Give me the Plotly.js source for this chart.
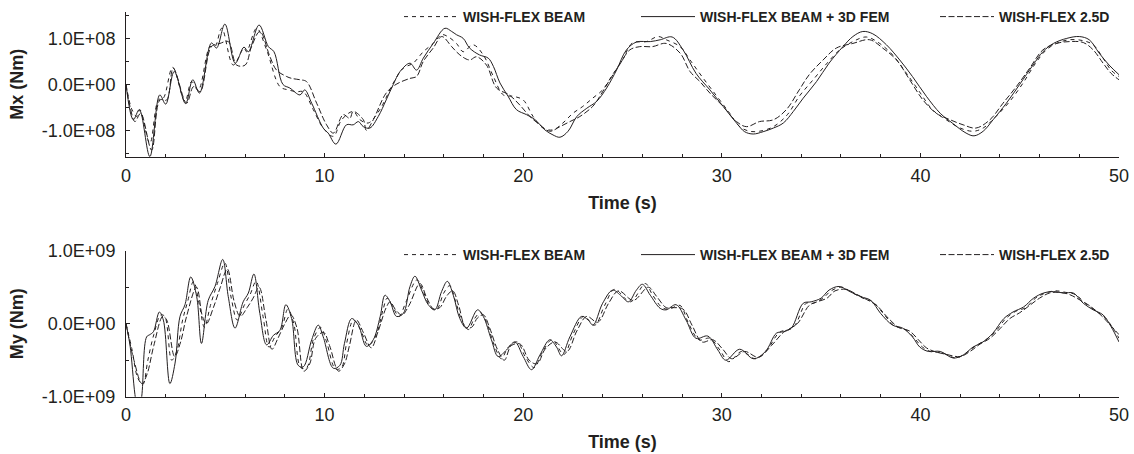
<!DOCTYPE html>
<html><head><meta charset="utf-8">
<script src="https://cdn.plot.ly/plotly-3.0.1.min.js"></script>
<style>html,body{margin:0;padding:0;background:#fff}#chart{width:1134px;height:454px}</style>
</head><body><div id="chart"></div>
<script>
// ---- data (time s, moment in units of the scale) ----
const seriesNames = ['WISH-FLEX BEAM', 'WISH-FLEX BEAM + 3D FEM', 'WISH-FLEX 2.5D'];
const timeTicks = [0, 10, 20, 30, 40, 50];
const mxTickVals = [-1e8, 0, 1e8];
const mxTickText = ['-1.0E+08', '0.0E+00', '1.0E+08'];
const myTickVals = [-1e9, 0, 1e9];
const myTickText = ['-1.0E+09', '0.0E+00', '1.0E+09'];
const MX_UNIT = 1e8;
const MY_UNIT = 1e9;

// Mx, units of 1e8 Nm
const mxBeam = [[0,0],[0.3,-0.55],[0.55,-0.7],[0.7,-0.55],[1.2,-1.28],[1.63,-0.34],[1.88,-0.3],[2.35,0.37],[2.97,-0.37],[3.3,0.06],[3.64,-0.12],[4.23,0.82],[4.48,0.82],[4.82,1.22],[5.4,0.42],[5.94,0.79],[6.07,0.71],[6.58,1.22],[7.08,0.75],[7.75,-0.05],[8.17,-0.12],[8.6,-0.16],[8.93,-0.16],[9.43,-0.55],[9.93,-0.95],[10.44,-1.13],[10.86,-0.77],[11.44,-0.59],[11.78,-0.77],[12.2,-0.84],[12.78,-0.55],[13.46,0.03],[13.96,0.35],[14.46,0.46],[14.97,0.71],[15.47,0.89],[15.9,1.08],[16.2,1.04],[16.64,0.89],[16.98,0.71],[17.48,0.86],[17.99,0.64],[18.5,0.17],[19.0,-0.23],[19.5,-0.26],[20.0,-0.34],[20.5,-0.7],[21.0,-0.95],[21.5,-0.99],[22.0,-0.84],[22.5,-0.63],[23.0,-0.48],[23.5,-0.3],[24.0,-0.12],[24.5,0.21],[25.0,0.53],[25.5,0.9],[26.2,0.93],[26.8,1.04],[27.2,0.97],[27.9,0.82],[28.4,0.53],[29.0,0.17],[29.7,-0.23],[30.4,-0.63],[30.9,-0.92],[31.4,-1.02],[31.9,-1.02],[32.6,-0.92],[33.3,-0.66],[33.9,-0.26],[34.6,0.1],[35.3,0.46],[35.94,0.75],[36.6,0.93],[37.28,1.03],[37.95,0.89],[38.6,0.64],[39.3,0.24],[40.0,-0.19],[40.6,-0.55],[41.3,-0.77],[42.0,-0.95],[42.65,-1.02],[43.16,-0.95],[43.8,-0.7],[44.5,-0.37],[45.17,0.03],[45.8,0.46],[46.34,0.75],[46.85,0.89],[47.5,0.97],[48.2,0.95],[48.7,0.86],[49.2,0.57],[49.6,0.31],[50,0.17]];
const mxFem = [[0,0],[0.37,-0.77],[0.67,-0.55],[1.2,-1.57],[1.7,-0.23],[2.0,-0.43],[2.43,0.28],[3.0,-0.42],[3.36,0.1],[3.7,-0.19],[4.3,0.9],[4.56,0.79],[4.98,1.31],[5.5,0.46],[5.94,0.81],[6.16,0.71],[6.7,1.29],[7.17,0.82],[7.45,0.71],[7.9,0],[8.25,-0.08],[8.76,-0.23],[9.0,-0.12],[9.35,-0.41],[9.93,-0.95],[10.18,-1.06],[10.57,-1.3],[11.1,-0.88],[11.44,-0.88],[11.7,-0.81],[11.95,-0.92],[12.28,-0.95],[12.7,-0.7],[13.1,-0.34],[13.46,0],[13.8,0.28],[14.3,0.46],[14.63,0.31],[14.97,0.57],[15.47,0.89],[16.06,1.22],[16.4,1.15],[16.64,1.08],[16.98,1.0],[17.3,0.79],[17.8,0.64],[18.24,0.57],[18.5,0.39],[18.83,0.03],[19.24,-0.26],[19.66,-0.55],[20.17,-0.66],[20.6,-0.77],[21.09,-0.99],[21.5,-1.1],[21.85,-1.15],[22.26,-1.02],[22.7,-0.7],[23.2,-0.52],[23.7,-0.37],[24.2,-0.08],[24.7,0.31],[25.2,0.75],[25.7,0.92],[26.4,0.93],[26.9,0.97],[27.5,1.03],[28.05,0.75],[28.7,0.24],[29.4,-0.12],[30.07,-0.48],[30.74,-0.84],[31.15,-1.03],[31.58,-1.08],[32.08,-1.03],[32.6,-0.95],[33.1,-0.84],[33.6,-0.59],[34.1,-0.3],[34.77,0.06],[35.4,0.46],[36.1,0.82],[36.6,1.04],[37.1,1.15],[37.6,1.1],[38.29,0.86],[38.96,0.53],[39.6,0.17],[40.3,-0.26],[41.0,-0.63],[41.6,-0.84],[42.3,-1.06],[42.7,-1.12],[43.16,-1.02],[43.66,-0.77],[44.33,-0.41],[45.0,0],[45.67,0.42],[46.17,0.71],[46.7,0.89],[47.37,1.0],[48.0,1.04],[48.5,0.97],[49.0,0.68],[49.5,0.42],[50,0.21]];
const mx25d = [[0,0],[0.2,-0.48],[0.45,-0.81],[0.74,-0.63],[1.29,-1.43],[1.71,-0.34],[2.05,-0.34],[2.38,0.35],[3.05,-0.41],[3.4,-0.05],[3.73,-0.16],[4.3,0.82],[4.73,0.89],[5.15,0.93],[5.57,0.42],[6.0,0.42],[6.32,0.82],[6.74,1.15],[7.25,0.6],[7.58,0.31],[8.09,0.17],[8.34,0.13],[8.76,0.1],[9.09,0.06],[9.6,-0.41],[10.1,-0.88],[10.44,-1.06],[10.94,-0.66],[11.27,-0.74],[11.44,-0.59],[11.95,-0.77],[12.1,-1.0],[12.45,-0.77],[13.1,-0.19],[13.6,0],[14.3,0.13],[14.63,0.17],[14.97,0.5],[15.47,0.79],[15.9,1.04],[16.4,0.82],[16.81,0.64],[17.3,0.53],[17.65,0.6],[18.15,0.42],[18.66,-0.08],[19.3,-0.23],[19.83,-0.45],[20.34,-0.7],[20.84,-0.88],[21.34,-1.02],[21.85,-0.92],[22.35,-0.81],[22.85,-0.7],[23.5,-0.48],[23.86,-0.26],[24.36,0.1],[24.87,0.44],[25.37,0.75],[25.87,0.82],[26.5,0.82],[27.2,0.89],[27.9,0.68],[28.4,0.28],[28.9,0.06],[29.4,-0.19],[30.07,-0.48],[30.74,-0.81],[31.24,-0.92],[31.9,-0.81],[32.6,-0.77],[33.25,-0.55],[33.9,-0.12],[34.4,0.21],[35.1,0.53],[35.77,0.79],[36.6,0.89],[37.45,0.97],[38.1,0.79],[38.8,0.53],[39.46,0.1],[40.13,-0.34],[40.8,-0.63],[41.5,-0.77],[42.15,-0.88],[42.8,-0.95],[43.5,-0.77],[44.16,-0.41],[44.83,-0.05],[45.5,0.35],[46.17,0.75],[46.85,0.89],[47.5,0.93],[48.2,0.91],[48.7,0.75],[49.2,0.46],[49.6,0.24],[50,0.1]];

// My, units of 1e9 Nm
const myBeam = [[0,0],[0.3,-0.35],[0.6,-0.75],[0.85,-0.83],[1.1,-0.5],[1.4,-0.15],[1.75,0.12],[1.95,0.1],[2.3,-0.5],[2.55,-0.38],[2.85,0.05],[3.1,0.3],[3.4,0.58],[3.7,0.25],[3.95,-0.05],[4.25,0.25],[4.6,0.55],[4.98,0.83],[5.3,0.35],[5.6,0.05],[5.95,0.25],[6.25,0.4],[6.55,0.58],[6.9,0.1],[7.2,-0.32],[7.5,-0.18],[7.85,-0.05],[8.15,0.2],[8.45,0.0],[8.8,-0.6],[9.1,-0.6],[9.45,-0.2],[9.8,-0.05],[10.1,-0.25],[10.55,-0.62],[10.85,-0.6],[11.1,-0.28],[11.45,0.05],[11.8,-0.08],[12.2,-0.3],[12.6,-0.15],[12.95,0.2],[13.15,0.35],[13.45,0.22],[13.75,0.1],[14.1,0.3],[14.65,0.6],[15.0,0.42],[15.35,0.22],[15.65,0.2],[16.0,0.42],[16.3,0.52],[16.6,0.3],[16.95,0.02],[17.25,-0.08],[17.5,0.05],[17.85,0.15],[18.15,0.02],[18.55,-0.3],[18.9,-0.48],[19.25,-0.32],[19.7,-0.25],[20.1,-0.45],[20.55,-0.6],[20.95,-0.4],[21.45,-0.22],[22.05,-0.42],[22.5,-0.15],[23.05,0.1],[23.6,-0.02],[24.1,0.25],[24.6,0.47],[25.4,0.3],[26.15,0.55],[26.5,0.4],[27.0,0.22],[27.35,0.2],[27.9,0.25],[28.3,0.02],[28.85,-0.22],[29.4,-0.2],[29.9,-0.36],[30.35,-0.52],[31.0,-0.38],[31.7,-0.48],[32.3,-0.35],[32.9,-0.12],[33.6,-0.05],[34.25,0.28],[34.6,0.28],[35.1,0.35],[35.5,0.45],[36.05,0.5],[36.6,0.42],[37.1,0.35],[37.6,0.3],[38.1,0.15],[38.7,-0.03],[39.25,-0.08],[39.7,-0.2],[40.1,-0.32],[40.5,-0.38],[41.1,-0.4],[41.8,-0.47],[42.3,-0.4],[42.8,-0.3],[43.3,-0.22],[43.8,-0.1],[44.3,0.07],[44.8,0.17],[45.3,0.22],[45.8,0.35],[46.3,0.42],[46.8,0.45],[47.3,0.43],[47.8,0.4],[48.3,0.28],[48.8,0.18],[49.3,0.08],[49.7,-0.06],[50,-0.2]];
const myFem = [[0,0],[0.2,-0.29],[0.45,-0.97],[0.62,-1.25],[0.79,-1.0],[1.04,-0.18],[1.2,-0.15],[1.38,-0.11],[1.68,0.16],[1.88,0.05],[2.21,-0.82],[2.47,-0.54],[2.72,0.1],[2.97,0.26],[3.26,0.64],[3.56,0.37],[3.8,-0.27],[4.14,0.32],[4.48,0.51],[4.87,0.88],[5.15,0.37],[5.49,-0.06],[5.9,0.3],[6.16,0.42],[6.44,0.68],[6.74,0.14],[7.08,-0.29],[7.42,-0.16],[7.75,-0.09],[8.05,0.26],[8.34,0.07],[8.67,-0.57],[8.93,-0.59],[9.35,-0.22],[9.68,-0.02],[9.93,-0.18],[10.44,-0.61],[10.77,-0.57],[11.0,-0.27],[11.36,0.07],[11.7,-0.02],[12.1,-0.31],[12.45,-0.22],[12.8,0.1],[13.04,0.39],[13.3,0.3],[13.62,0.1],[13.96,0.14],[14.3,0.51],[14.55,0.65],[14.88,0.46],[15.22,0.26],[15.55,0.19],[15.89,0.44],[16.18,0.58],[16.48,0.39],[16.81,0.07],[17.15,-0.06],[17.7,0.19],[17.99,0.1],[18.4,-0.22],[18.74,-0.45],[19.16,-0.36],[19.58,-0.25],[20.0,-0.45],[20.42,-0.63],[20.84,-0.43],[21.34,-0.22],[21.68,-0.32],[21.93,-0.44],[22.35,-0.18],[22.94,0.1],[23.27,0.05],[23.52,-0.02],[24.0,0.28],[24.5,0.46],[24.9,0.39],[25.3,0.3],[25.7,0.46],[26.0,0.54],[26.4,0.39],[26.9,0.21],[27.2,0.19],[27.7,0.26],[28.2,0.05],[28.7,-0.2],[29.3,-0.17],[29.8,-0.36],[30.2,-0.5],[30.9,-0.35],[31.6,-0.48],[32.2,-0.38],[32.75,-0.13],[33.1,-0.11],[33.5,-0.06],[34.1,0.28],[34.5,0.3],[35.0,0.35],[35.4,0.46],[35.9,0.51],[36.45,0.44],[37.0,0.37],[37.5,0.32],[38.0,0.14],[38.6,-0.02],[39.1,-0.06],[39.6,-0.18],[39.97,-0.32],[40.4,-0.38],[41.0,-0.38],[41.65,-0.47],[42.15,-0.43],[42.65,-0.32],[43.15,-0.25],[43.65,-0.13],[44.2,0.07],[44.66,0.16],[45.2,0.23],[45.7,0.35],[46.2,0.42],[46.7,0.44],[47.2,0.42],[47.7,0.42],[48.2,0.28],[48.7,0.19],[49.2,0.12],[49.6,-0.04],[50,-0.25]];
const my25d = [[0,0],[0.4,-0.5],[0.8,-0.82],[1.05,-0.7],[1.4,-0.3],[1.85,0.1],[2.05,0.05],[2.45,-0.45],[2.75,-0.25],[3.05,0.1],[3.55,0.5],[3.85,0.1],[4.05,0.0],[4.4,0.22],[4.75,0.5],[5.1,0.75],[5.45,0.3],[5.75,0.1],[6.1,0.22],[6.4,0.35],[6.7,0.5],[7.05,0.05],[7.35,-0.35],[7.65,-0.2],[8.0,0.0],[8.3,0.12],[8.6,-0.05],[8.95,-0.65],[9.25,-0.55],[9.55,-0.2],[9.95,-0.12],[10.25,-0.3],[10.7,-0.65],[11.0,-0.55],[11.25,-0.3],[11.6,0.05],[11.95,-0.12],[12.35,-0.33],[12.7,-0.1],[13.1,0.22],[13.3,0.3],[13.6,0.18],[13.9,0.12],[14.25,0.25],[14.8,0.55],[15.15,0.35],[15.5,0.2],[15.8,0.22],[16.15,0.38],[16.45,0.45],[16.75,0.25],[17.1,-0.05],[17.4,-0.05],[17.7,0.08],[18.0,0.12],[18.3,-0.05],[18.7,-0.35],[19.05,-0.5],[19.4,-0.3],[19.85,-0.28],[20.3,-0.5],[20.7,-0.55],[21.1,-0.35],[21.6,-0.25],[22.2,-0.38],[22.7,-0.1],[23.2,0.1],[23.75,0.02],[24.3,0.28],[24.8,0.45],[25.55,0.32],[26.3,0.5],[26.7,0.38],[27.2,0.22],[27.5,0.22],[28.05,0.2],[28.5,-0.02],[29.0,-0.25],[29.55,-0.22],[30.05,-0.35],[30.5,-0.48],[31.15,-0.38],[31.85,-0.46],[32.5,-0.3],[33.1,-0.12],[33.8,0.0],[34.4,0.25],[34.8,0.3],[35.3,0.35],[35.7,0.45],[36.25,0.47],[36.8,0.4],[37.3,0.33],[37.8,0.25],[38.3,0.1],[38.9,-0.05],[39.45,-0.1],[39.9,-0.22],[40.3,-0.33],[40.7,-0.38],[41.3,-0.42],[42.0,-0.45],[42.5,-0.38],[43.0,-0.28],[43.5,-0.2],[44.0,-0.07],[44.5,0.07],[45.0,0.15],[45.5,0.25],[46.0,0.35],[46.5,0.42],[47.0,0.43],[47.5,0.4],[48.0,0.33],[48.5,0.25],[49.0,0.14],[49.5,0.0],[50,-0.15]];

// ---- styles ----
const ink = '#231f20';
const FAM = 'Liberation Sans, Arial, Helvetica, sans-serif';
const tickFont = {family: FAM, size: 18, color: ink};
const titleFont = {family: FAM, size: 18, color: ink, weight: 'bold'};
const legFont = {family: FAM, size: 14, color: ink, weight: 'bold'};
const dashes = ['4px,4px', 'solid', '6px,2.5px'];

function trace(pts, unit, idx, xa, ya, leg) {
  return {
    type: 'scatter', mode: 'lines',
    x: pts.map(p => p[0]), y: pts.map(p => p[1] * unit),
    name: seriesNames[idx], xaxis: xa, yaxis: ya, legend: leg,
    line: {color: ink, width: 1, dash: dashes[idx], shape: 'spline', smoothing: 1},
    hoverinfo: 'skip'
  };
}
const data = [
  trace(mxBeam, MX_UNIT, 0, 'x', 'y', 'legend'),
  trace(mxFem, MX_UNIT, 1, 'x', 'y', 'legend2'),
  trace(mx25d, MX_UNIT, 2, 'x', 'y', 'legend3'),
  trace(myBeam, MY_UNIT, 0, 'x2', 'y2', 'legend4'),
  trace(myFem, MY_UNIT, 1, 'x2', 'y2', 'legend5'),
  trace(my25d, MY_UNIT, 2, 'x2', 'y2', 'legend6')
];

function xAxis(anchor) {
  return {
    anchor: anchor, domain: [0, 1], range: [0, 50],
    tickmode: 'array', tickvals: timeTicks, ticktext: timeTicks.map(String),
    ticks: 'inside', ticklen: 4, tickwidth: 1, tickcolor: ink,
    minor: {tickmode: 'linear', tick0: 0, dtick: 2, ticks: 'inside', ticklen: 3, tickwidth: 1, tickcolor: ink, showgrid: false},
    showline: true, linecolor: ink, linewidth: 1, showgrid: false, zeroline: false,
    tickfont: tickFont, ticklabelstandoff: 2,
    title: {text: 'Time (s)', font: titleFont, standoff: 11},
    fixedrange: true
  };
}
function yAxis(anchor, domain, range, vals, text, minorStep, label) {
  return {
    anchor: anchor, domain: domain, range: range,
    tickmode: 'array', tickvals: vals, ticktext: text,
    ticks: 'inside', ticklen: 4, tickwidth: 1, tickcolor: ink,
    minor: {tickmode: 'linear', tick0: 0, dtick: minorStep, ticks: 'inside', ticklen: 3, tickwidth: 1, tickcolor: ink, showgrid: false},
    showline: true, linecolor: ink, linewidth: 1, showgrid: false, zeroline: false,
    tickfont: tickFont, ticklabelstandoff: 6,
    title: {text: label, font: titleFont, standoff: 13},
    fixedrange: true
  };
}
function leg(xpx, ypx) {
  return {
    x: (xpx - 126) / 993, y: (454 - ypx) / 454, xanchor: 'left', yanchor: 'middle',
    orientation: 'h', bgcolor: 'rgba(0,0,0,0)', borderwidth: 0, font: legFont,
    itemwidth: 54, itemclick: false, itemdoubleclick: false
  };
}
const layout = {
  width: 1134, height: 454,
  margin: {l: 126, r: 15, t: 0, b: 0},
  paper_bgcolor: '#fff', plot_bgcolor: '#fff',
  showlegend: true,
  xaxis: xAxis('y'),
  xaxis2: xAxis('y2'),
  yaxis: yAxis('x', [0.6542, 0.9742], [-1.58e8, 1.58e8], mxTickVals, mxTickText, 5e7, 'Mx (Nm)'),
  yaxis2: yAxis('x2', [0.1262, 0.4478], [-1e9, 1e9], myTickVals, myTickText, 5e8, 'My (Nm)'),
  legend: leg(399, 17), legend2: leg(636, 17), legend3: leg(935, 17),
  legend4: leg(399, 255), legend5: leg(636, 255), legend6: leg(935, 255)
};
Plotly.newPlot('chart', data, layout, {displayModeBar: false, staticPlot: true});
</script></body></html>
